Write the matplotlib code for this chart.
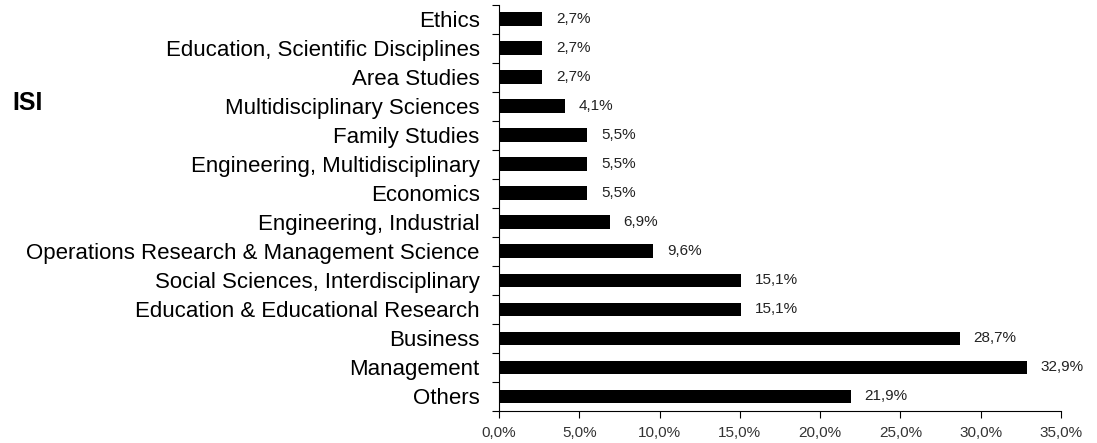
import numpy as np
import matplotlib.pyplot as plt
from matplotlib.ticker import FixedLocator, FuncFormatter

plt.rcParams['font.family'] = ['Liberation Sans', 'DejaVu Sans']

# categories from top to bottom as in the picture
categories = ['Ethics', 'Education, Scientific Disciplines', 'Area Studies',
              'Multidisciplinary Sciences', 'Family Studies',
              'Engineering, Multidisciplinary', 'Economics',
              'Engineering, Industrial',
              'Operations Research & Management Science',
              'Social Sciences, Interdisciplinary',
              'Education & Educational Research', 'Business',
              'Management', 'Others']
shares = [2.7, 2.7, 2.7, 4.1, 5.5, 5.5, 5.5, 6.9, 9.6, 15.1, 15.1, 28.7, 32.9, 21.9]
x_ticks = [0, 5, 10, 15, 20, 25, 30, 35]


def pct(v):
  return ('%.1f%%' % v).replace('.', ',')


fig = plt.figure(figsize=(10.97, 4.43), dpi=100)
ax = fig.add_axes([499 / 1097, 1 - 411 / 443, (1061 - 499) / 1097, (411 - 4.5) / 443])

y = np.arange(len(categories))[::-1]
ax.barh(y, shares, height=0.47, color='black')
for yi, v in zip(y, shares):
  ax.text(v + 0.85, yi, pct(v), va='center', ha='left', fontsize=11, color='#222222')

ax.set_ylim(-0.5, len(categories) - 0.5)
ax.set_xlim(0, 35)
ax.set_yticks(y)
ax.set_yticklabels(categories, fontsize=16, color='black')
ax.yaxis.set_minor_locator(FixedLocator(np.arange(-0.5, len(categories), 1.0)))
ax.tick_params(axis='y', which='major', length=0, pad=14)
ax.tick_params(axis='y', which='minor', length=5, width=0.8, direction='out')
ax.set_xticks(x_ticks)
ax.xaxis.set_major_formatter(FuncFormatter(lambda v, p: pct(v)))
ax.tick_params(axis='x', length=5, width=0.8, direction='out', labelsize=11,
               labelcolor='#333333', pad=6)

for s in ['top', 'right']:
  ax.spines[s].set_visible(False)
for s in ['left', 'bottom']:
  ax.spines[s].set_linewidth(0.8)

fig.text(12 / 1097, 1 - 103 / 443, 'ISI', fontsize=18, fontweight='bold', va='center', ha='left')

fig.savefig('out.png', dpi=100)
